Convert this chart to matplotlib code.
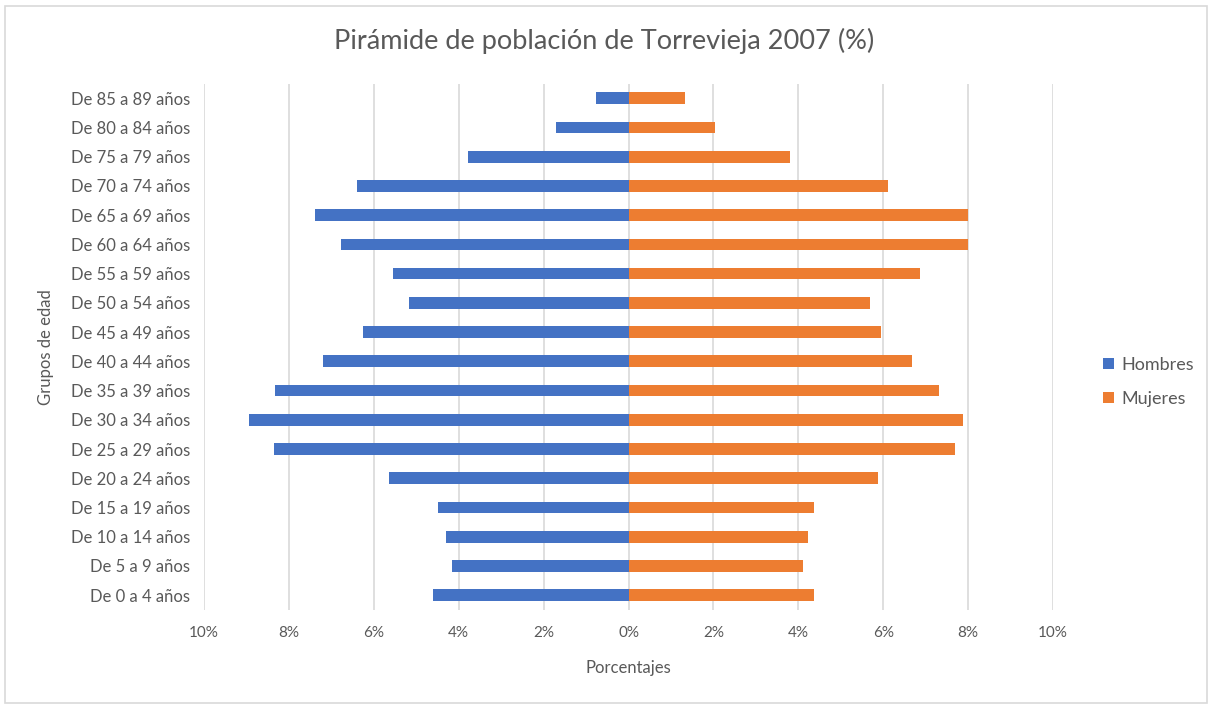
import matplotlib
matplotlib.use("Agg")
import matplotlib.pyplot as plt
from matplotlib.ticker import FuncFormatter
from matplotlib.patches import Rectangle

plt.rcParams['font.family'] = ['Lato', 'DejaVu Sans']

grupos = ["De 0 a 4 años", "De 5 a 9 años", "De 10 a 14 años", "De 15 a 19 años",
          "De 20 a 24 años", "De 25 a 29 años", "De 30 a 34 años", "De 35 a 39 años",
          "De 40 a 44 años", "De 45 a 49 años", "De 50 a 54 años", "De 55 a 59 años",
          "De 60 a 64 años", "De 65 a 69 años", "De 70 a 74 años", "De 75 a 79 años",
          "De 80 a 84 años", "De 85 a 89 años"]
hombres = [4.60, 4.15, 4.30, 4.48, 5.65, 8.35, 8.95, 8.32, 7.19, 6.25,
           5.16, 5.54, 6.78, 7.38, 6.40, 3.77, 1.71, 0.77]
mujeres = [4.38, 4.11, 4.22, 4.38, 5.88, 7.68, 7.87, 7.31, 6.67, 5.95,
           5.69, 6.86, 7.99, 7.99, 6.11, 3.81, 2.04, 1.33]

azul = "#4472C4"
naranja = "#ED7D31"
gris = "#595959"

fig = plt.figure(figsize=(12.08, 7.04), dpi=100)
ax = fig.add_axes([0.1689, 0.1338, 0.7028, 0.7475])

y = range(len(grupos))
ax.barh(y, [-v for v in hombres], height=0.4, color=azul, label="Hombres", zorder=3)
ax.barh(y, mujeres, height=0.4, color=naranja, label="Mujeres", zorder=3)

ax.set_xlim(-10, 10)
ax.set_ylim(-0.5, len(grupos) - 0.5)
ax.set_xticks(range(-10, 11, 2))
ax.xaxis.set_major_formatter(FuncFormatter(lambda v, p: f"{abs(v):.0f}%"))
ax.set_yticks(list(y))
ax.set_yticklabels(grupos)

ax.grid(axis="x", color="#d9d9d9", linewidth=1.2, zorder=0)
for s in ax.spines.values():
    s.set_visible(False)
ax.tick_params(axis="both", length=0, colors=gris, labelsize=11)
ax.tick_params(axis="y", labelsize=12, pad=10)
ax.tick_params(axis="x", pad=12)

ax.set_xlabel("Porcentajes", fontsize=12, color=gris, labelpad=14)
ax.set_ylabel("Grupos de edad", fontsize=12, color=gris, labelpad=12)
fig.suptitle("Pirámide de población de Torrevieja 2007 (%)", fontsize=19.5,
             color=gris, y=0.96)

ax.legend(loc="center left", bbox_to_anchor=(1.04, 0.433), frameon=False,
          fontsize=13, labelcolor=gris, handlelength=0.6, handleheight=0.6,
          handletextpad=0.4, labelspacing=1.0)

fig.patches.append(Rectangle((0.004, 0.002), 0.995, 0.99, transform=fig.transFigure,
                             fill=False, edgecolor="#d9d9d9", linewidth=1.2))

fig.savefig("out.png", dpi=100)
